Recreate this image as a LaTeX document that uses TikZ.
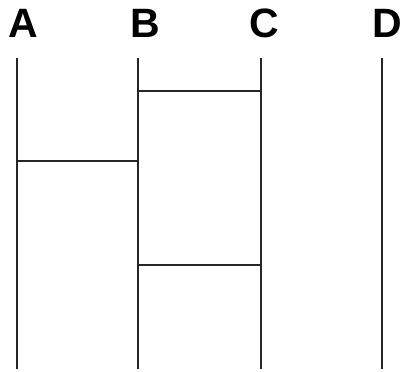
\documentclass[tikz,border=0pt]{standalone}
\usepackage{fontspec}
\setmainfont{Liberation Sans}
\usetikzlibrary{positioning}

\begin{document}
\begin{tikzpicture}[x=1pt, y=-1pt,
    rail/.style={line width=1.2pt, black!85},
    tag/.style={font=\fontsize{41}{46}\selectfont\bfseries, anchor=base, inner sep=0pt}]
  \useasboundingbox (0,0) rectangle (402,372);
  % Vertical rails with their letters
  \foreach \xpos/\tname/\toff in {17/A/6, 138/B/7, 261/C/3, 382/D/5} {
    \coordinate (\tname top) at (\xpos,58);
    \coordinate (\tname bot) at (\xpos,369);
    \node[tag] (\tname) at (\xpos+\toff,37) {\tname};
    \draw[rail] (\tname top) -- (\tname bot);
  }
  % Rungs between neighbouring rails
  \foreach \lft/\rgt/\ypos in {A/B/161, B/C/91, B/C/265} {
    \path (\lft top) ++(0,\ypos-58) coordinate (rl)
          (\rgt top) ++(0,\ypos-58) coordinate (rr);
    \draw[rail] (rl) -- (rr);
  }
\end{tikzpicture}
\end{document}
